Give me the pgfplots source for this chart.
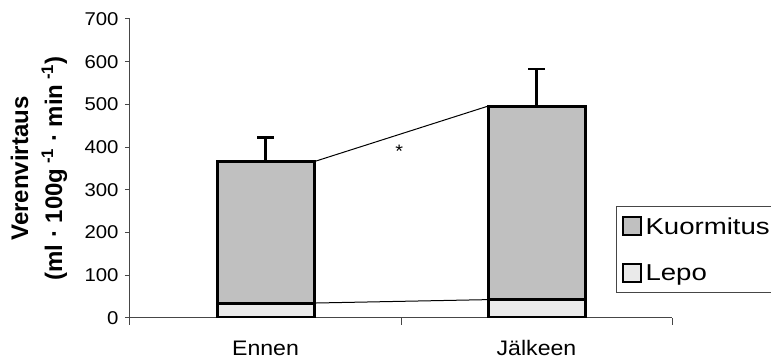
\documentclass[border=0pt]{standalone}
\usepackage{fontspec}
\setmainfont[FakeStretch=1.1]{Liberation Sans}
\newfontfamily\legfont[FakeStretch=1.2]{Liberation Sans}
\newfontfamily\labfont{Liberation Sans}
\usepackage{pgfplots}
\pgfplotsset{compat=1.18}
\definecolor{kuorm}{RGB}{192,192,192}
\definecolor{lepo}{RGB}{234,234,234}
\definecolor{axcol}{RGB}{70,70,70}
\begin{document}
\begin{tikzpicture}
\path[use as bounding box] (0,0) rectangle (771pt,363pt);
\begin{axis}[
  at={(130pt,45pt)}, anchor=south west,
  width=542pt, height=299pt, scale only axis,
  xmin=-0.5, xmax=1.5, ymin=0, ymax=700,
  axis x line*=bottom, axis y line*=left,
  axis line style={-, axcol, line width=1pt},
  ytick={0,100,...,700},
  xtick={0,1}, xticklabels={Ennen,J\"alkeen},
  minor xtick={-0.5,0.5,1.5},
  tick align=outside,
  major tick length=5pt, minor tick length=7pt,
  every tick/.style={axcol, line width=1pt},
  major x tick style={draw=none},
  /pgf/number format/assume math mode=true,
  yticklabel style={font=\fontsize{18.5}{20}\selectfont, xshift=-3pt},
  xticklabel style={font=\fontsize{21}{22}\selectfont, anchor=base, yshift=-33pt},
  ylabel={Verenvirtaus\\(ml · 100g\textsuperscript{ -1} · min\textsuperscript{ -1})},
  ylabel style={at={(axis description cs:-0.168,0.5)}, anchor=center, align=center,
    font=\labfont\bfseries\fontsize{24}{34}\selectfont},
  legend style={at={(axis description cs:0.8967,0.375)}, anchor=north west,
    draw=axcol, line width=1pt, font=\legfont\fontsize{23}{26}\selectfont,
    inner xsep=5pt, inner ysep=9pt, row sep=25pt, cells={anchor=west},
    nodes={inner xsep=4pt}},
  legend image code/.code={\draw[#1, line width=2pt] (0pt,-9pt) rectangle (18pt,9pt);},
]
\addplot[black, line width=1pt, forget plot] coordinates {(0.179,366) (0.821,496)};
\addplot[black, line width=1pt, forget plot] coordinates {(0.179,35) (0.821,43)};
\addplot[ybar, bar width=97pt, bar shift=0pt, fill=kuorm, draw=black, line width=3pt,
  error bars/.cd, y dir=plus, y explicit,
  error bar style={line width=2.5pt, black},
  error mark options={rotate=90, mark size=8.5pt, line width=2.5pt, black}]
  coordinates {(0,366) +- (0,56) (1,496) +- (0,87)};
\addlegendentry{Kuormitus}
\addplot[ybar, bar width=97pt, bar shift=0pt, fill=lepo, draw=black, line width=3pt]
  coordinates {(0,35) (1,43)};
\addlegendentry{Lepo}
\node[font=\fontsize{18}{18}\selectfont] at (axis cs:0.493,390) {*};
\end{axis}
\end{tikzpicture}
\end{document}
